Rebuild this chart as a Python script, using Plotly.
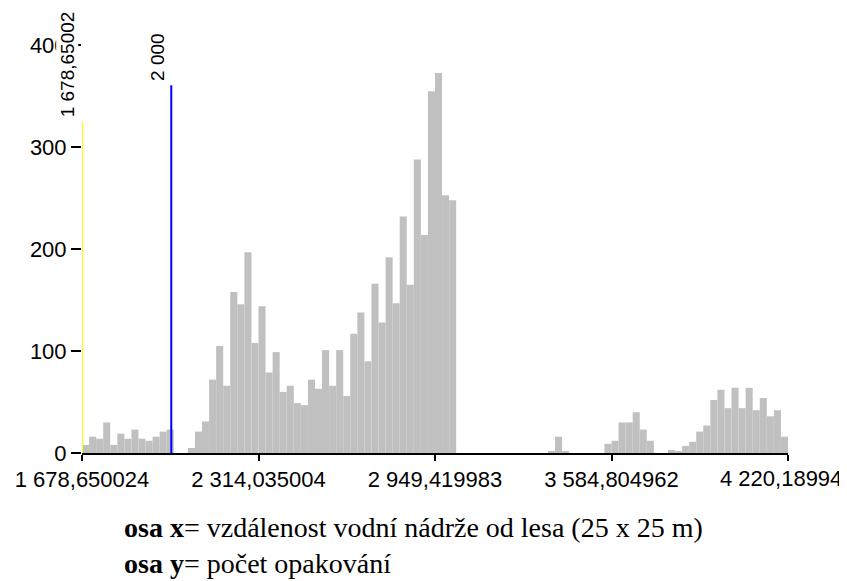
import plotly.graph_objects as go

# ---- data ----
x_min = 1678.650024
x_max = 4220.18994
counts = [8, 16, 14, 30, 8, 19, 14, 23, 14, 12,
          16, 21, 23, 0, 0, 5, 21, 31, 72, 105,
          66, 158, 146, 197, 108, 144, 79, 99, 60, 66,
          49, 47, 72, 63, 101, 66, 101, 56, 117, 138,
          90, 166, 128, 192, 147, 232, 165, 288, 214, 355,
          373, 253, 248, 0, 0, 0, 0, 0, 0, 0,
          0, 0, 0, 0, 0, 0, 1, 16, 1, 0,
          0, 0, 0, 0, 9, 12, 30, 30, 40, 23,
          12, 0, 0, 3, 2, 7, 11, 21, 27, 52,
          62, 44, 64, 44, 64, 42, 54, 36, 42, 16]
x_tickvals = [1678.650024, 2314.035004, 2949.419983, 3584.804962, 4220.18994]
x_ticktext = ["1 678,650024", "2 314,035004", "2 949,419983", "3 584,804962", "4 220,18994"]
y_tickvals = [0, 100, 200, 300, 400]
y_ticktext = ["0", "100", "200", "300", "400"]
marker_x = [1678.650024, 2000]
marker_top = [325, 361]
marker_text = ["1 678,65002", "2 000"]
marker_colors = ["#FFFF00", "#0000FF"]
caption_line1 = "<b>osa x</b>= vzdálenost vodní nádrže od lesa (25 x 25 m)"
caption_line2 = "<b>osa y</b>= počet opakování"

n_bins = len(counts)
bw = (x_max - x_min) / n_bins
centers = [x_min + (i + 0.5) * bw for i in range(n_bins)]

fig = go.Figure()
fig.add_trace(go.Bar(x=centers, y=counts, width=[bw] * n_bins,
                     marker=dict(color="#C0C0C0", line=dict(width=0)),
                     hoverinfo="skip", showlegend=False))

font_family = "Arial, Liberation Sans, sans-serif"
tickfont = dict(family=font_family, size=22, color="black")

for xv, yt, col, txt in zip(marker_x, marker_top, marker_colors, marker_text):
    fig.add_shape(type="line", xref="x", yref="y", x0=xv, x1=xv, y0=0, y1=yt,
                  line=dict(color=col, width=2), layer="above")
    fig.add_annotation(x=xv, y=yt, xref="x", yref="y", text=txt, textangle=-90,
                       showarrow=False, xanchor="right", yanchor="bottom",
                       xshift=-3, yshift=3, bgcolor="white", borderpad=0,
                       font=dict(family=font_family, size=19, color="black"))

# the last x tick label sits shifted left so it fits inside the picture
shown_ticktext = x_ticktext[:-1] + [""]
fig.add_annotation(x=x_tickvals[-1], y=0, xref="x", yref="paper", text=x_ticktext[-1],
                   showarrow=False, xanchor="right", yanchor="middle",
                   xshift=56, yshift=-25, font=tickfont)

fig.add_annotation(x=0.057, y=-0.137, xref="paper", yref="paper",
                   text=caption_line1 + "<br>" + caption_line2, align="left",
                   showarrow=False, xanchor="left", yanchor="top",
                   font=dict(family="Times New Roman, Liberation Serif, serif", size=28, color="black"))

ymax = 405.3
fig.update_layout(
    width=839, height=573,
    margin=dict(l=74, r=59, t=32, b=128, autoexpand=False),
    paper_bgcolor="white", plot_bgcolor="white",
    bargap=0.05,
    xaxis=dict(range=[x_min, x_max + 0.01], tickvals=x_tickvals, ticktext=shown_ticktext,
               showgrid=False, zeroline=False, showline=True, linecolor="black", linewidth=2,
               ticks="outside", ticklen=6, tickwidth=2, tickcolor="black", tickfont=tickfont,
               ticklabeloverflow="allow", automargin=False),
    yaxis=dict(range=[0, ymax], tickvals=y_tickvals, ticktext=y_ticktext,
               showgrid=False, zeroline=False, showline=False,
               ticks="outside", ticklen=10, tickwidth=1.5, tickcolor="black", tickfont=tickfont,
               ticklabeloverflow="allow", automargin=False),
    yaxis2=dict(range=[0, ymax], overlaying="y", side="left", tickvals=y_tickvals,
                showticklabels=False, showgrid=False, zeroline=False, showline=False,
                ticks="inside", ticklen=8, tickwidth=1.5, tickcolor="black", automargin=False),
)

fig.write_html("out.html")
